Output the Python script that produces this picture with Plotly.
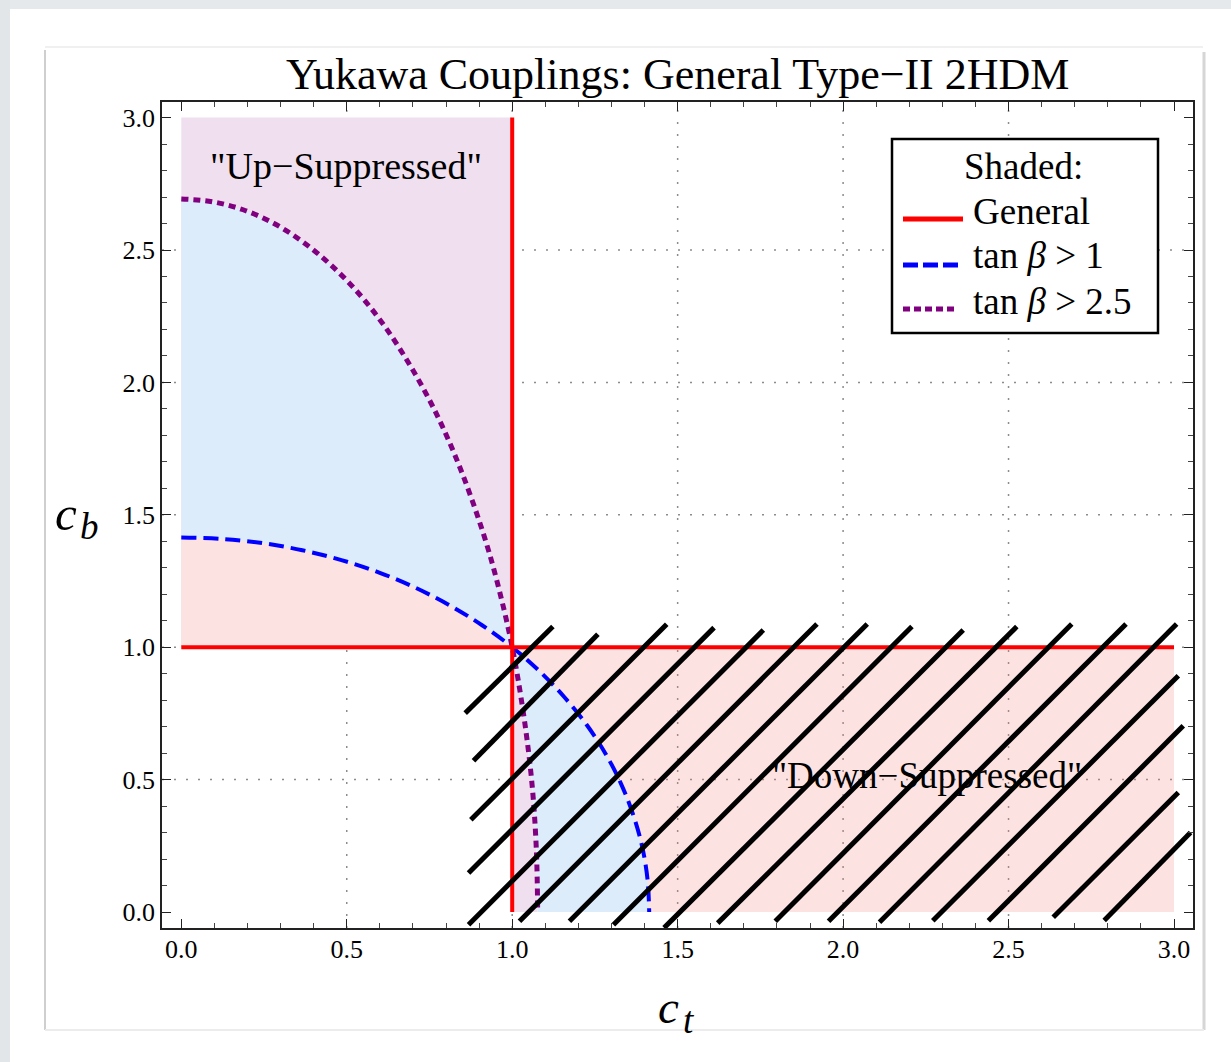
import plotly.graph_objects as go

# ---------------- data ----------------
# boundary of the tan(beta) > 2.5 region (purple dotted)
purple_ct = [0.000, 0.094, 0.187, 0.279, 0.368, 0.455, 0.539, 0.618, 0.692, 0.762,
             0.825, 0.882, 0.933, 0.976, 1.000, 1.012, 1.040, 1.061, 1.073, 1.077]
purple_cb = [2.693, 2.682, 2.652, 2.601, 2.530, 2.440, 2.332, 2.206, 2.063, 1.904,
             1.731, 1.544, 1.346, 1.138, 1.000, 0.921, 0.697, 0.468, 0.235, 0.000]
PURPLE_MID = 14  # index of the point (1, 1)

# boundary of the tan(beta) > 1 region (blue dashed)
blue_ct = [0.000, 0.123, 0.246, 0.366, 0.484, 0.598, 0.707, 0.811, 0.909, 1.000,
           1.083, 1.158, 1.225, 1.282, 1.329, 1.366, 1.393, 1.409, 1.414]
blue_cb = [1.414, 1.409, 1.393, 1.366, 1.329, 1.282, 1.225, 1.158, 1.083, 1.000,
           0.909, 0.811, 0.707, 0.598, 0.484, 0.366, 0.246, 0.123, 0.000]
BLUE_MID = 9

# general boundaries (red)
general_value = 1.0
coupling_min, coupling_max = 0.0, 3.0

# hatch segments (start / end points)
hatch_x0 = [0.858, 0.883, 0.875, 0.868, 0.868, 1.022, 1.173, 1.306, 1.459, 1.621,
            1.795, 1.956, 2.110, 2.271, 2.439, 2.635, 2.789]
hatch_y0 = [0.751, 0.571, 0.348, 0.147, -0.048, -0.035, -0.035, -0.048, -0.060, -0.042,
            -0.035, -0.035, -0.039, -0.033, -0.033, -0.020, -0.032]
hatch_x1 = [1.123, 1.259, 1.467, 1.610, 1.759, 1.921, 2.073, 2.208, 2.363, 2.525,
            2.691, 2.855, 3.008, 3.013, 3.028, 3.013, 3.050]
hatch_y1 = [1.078, 1.049, 1.087, 1.074, 1.065, 1.088, 1.088, 1.078, 1.065, 1.078,
            1.088, 1.088, 1.088, 0.892, 0.703, 0.451, 0.300]

grid_vals = [0.5, 1.0, 1.5, 2.0, 2.5]
tick_vals = [0.0, 0.5, 1.0, 1.5, 2.0, 2.5, 3.0]

title_text = "Yukawa Couplings: General Type\u2212II 2HDM"
legend_title = "Shaded:"
legend_labels = ["General", "tan <i>\u03b2</i> > 1", "tan <i>\u03b2</i> > 2.5"]

# ---------------- styling ----------------
W, H = 1231, 1062
PL, PR, PT, PB = 162, 1193, 102, 928
XR = [-0.0583, 3.0574]
YR = [-0.0604, 3.0589]
FONT = "Liberation Serif"

PINK = "#fde2e2"
PINK_T = "rgba(245,130,130,0.23)"
BLUE_F = "#ddecfb"
LAV = "#efdfef"
RED = "#ff0000"
BLUE = "#0000ff"
PURPLE = "#800080"


def pxx(px):
    return (px - PL) / (PR - PL)


def pxy(py):
    return (PB - py) / (PB - PT)


fig = go.Figure()


def poly(xs, ys, color):
    fig.add_trace(go.Scatter(x=xs, y=ys, fill="toself", fillcolor=color, mode="lines",
                             line=dict(width=0, color=color), hoverinfo="skip",
                             showlegend=False))


g, lo, hi = general_value, coupling_min, coupling_max
# top-left ("up-suppressed") region
poly([lo, g, g, lo], [g, g, hi, hi], LAV)
poly(purple_ct[:PURPLE_MID + 1] + [lo], purple_cb[:PURPLE_MID + 1] + [g], BLUE_F)
poly(blue_ct[:BLUE_MID + 1] + [lo], blue_cb[:BLUE_MID + 1] + [g], PINK)
# bottom-right ("down-suppressed") region
poly(purple_ct[PURPLE_MID:] + [g], purple_cb[PURPLE_MID:] + [lo], LAV)
poly(blue_ct[BLUE_MID:] + purple_ct[PURPLE_MID:][::-1],
     blue_cb[BLUE_MID:] + purple_cb[PURPLE_MID:][::-1], BLUE_F)
poly([hi, hi] + blue_ct[BLUE_MID:][::-1], [g, lo] + blue_cb[BLUE_MID:][::-1], PINK_T)

# boundary curves
fig.add_trace(go.Scatter(x=blue_ct, y=blue_cb, mode="lines", hoverinfo="skip", showlegend=False,
                         line=dict(color=BLUE, width=4, dash="15px,7px", shape="spline")))
fig.add_trace(go.Scatter(x=purple_ct, y=purple_cb, mode="lines", hoverinfo="skip", showlegend=False,
                         line=dict(color=PURPLE, width=5, dash="7px,5px", shape="spline")))
fig.add_trace(go.Scatter(x=[g, g], y=[lo, hi], mode="lines", hoverinfo="skip", showlegend=False,
                         line=dict(color=RED, width=4)))
fig.add_trace(go.Scatter(x=[lo, hi], y=[g, g], mode="lines", hoverinfo="skip", showlegend=False,
                         line=dict(color=RED, width=4)))

# hatching
hx, hy = [], []
for a, b, c, d in zip(hatch_x0, hatch_y0, hatch_x1, hatch_y1):
    hx += [a, c, None]
    hy += [b, d, None]
fig.add_trace(go.Scatter(x=hx, y=hy, mode="lines", hoverinfo="skip", showlegend=False,
                         line=dict(color="black", width=5)))

shapes = []
# page decoration
shapes.append(dict(type="rect", xref="paper", yref="paper", x0=pxx(0), x1=pxx(W), y0=pxy(0), y1=pxy(9),
                   fillcolor="#e6e9ec", line=dict(width=0), layer="below"))
shapes.append(dict(type="rect", xref="paper", yref="paper", x0=pxx(0), x1=pxx(10), y0=pxy(0), y1=pxy(H),
                   fillcolor="#e3e6e9", line=dict(width=0), layer="below"))
shapes.append(dict(type="line", xref="paper", yref="paper", x0=pxx(45), x1=pxx(45), y0=pxy(50), y1=pxy(1030),
                   line=dict(color="#cfcfcf", width=2), layer="below"))
shapes.append(dict(type="line", xref="paper", yref="paper", x0=pxx(45), x1=pxx(1203), y0=pxy(47), y1=pxy(47),
                   line=dict(color="#f0f0f0", width=2), layer="below"))
shapes.append(dict(type="line", xref="paper", yref="paper", x0=pxx(1204), x1=pxx(1204), y0=pxy(52), y1=pxy(1030),
                   line=dict(color="#d6d6d6", width=3), layer="below"))
shapes.append(dict(type="line", xref="paper", yref="paper", x0=pxx(45), x1=pxx(1204), y0=pxy(1030), y1=pxy(1030),
                   line=dict(color="#ececec", width=2), layer="below"))
# grid lines
for v in grid_vals:
    shapes.append(dict(type="line", xref="x", yref="y", x0=v, x1=v, y0=YR[0], y1=YR[1],
                       line=dict(color="#8c8c8c", width=1.5, dash="2px,10px"), layer="below"))
    shapes.append(dict(type="line", xref="x", yref="y", x0=XR[0], x1=XR[1], y0=v, y1=v,
                       line=dict(color="#8c8c8c", width=1.5, dash="2px,10px"), layer="below"))
# legend box and keys
shapes.append(dict(type="rect", xref="paper", yref="paper", x0=pxx(892), x1=pxx(1158), y0=pxy(333), y1=pxy(139),
                   fillcolor="white", line=dict(color="black", width=2.5), layer="above"))
shapes.append(dict(type="line", xref="paper", yref="paper", x0=pxx(903), x1=pxx(963), y0=pxy(219), y1=pxy(219),
                   line=dict(color=RED, width=5), layer="above"))
shapes.append(dict(type="line", xref="paper", yref="paper", x0=pxx(903), x1=pxx(958), y0=pxy(265), y1=pxy(265),
                   line=dict(color=BLUE, width=5, dash="15px,5px"), layer="above"))
shapes.append(dict(type="line", xref="paper", yref="paper", x0=pxx(903), x1=pxx(958), y0=pxy(309), y1=pxy(309),
                   line=dict(color=PURPLE, width=5, dash="7px,4px"), layer="above"))

ann = []
ann.append(dict(text=title_text, xref="paper", yref="paper", x=0.5, y=pxy(74), xanchor="center",
                yanchor="middle", showarrow=False, font=dict(family=FONT, size=44, color="black")))
ann.append(dict(text="\"Up\u2212Suppressed\"", xref="x", yref="y", x=0.499, y=2.818, xanchor="center",
                yanchor="middle", showarrow=False, font=dict(family=FONT, size=38, color="black")))
ann.append(dict(text="\"Down\u2212Suppressed\"", xref="x", yref="y", x=2.255, y=0.514, xanchor="center",
                yanchor="middle", showarrow=False, font=dict(family=FONT, size=37, color="black")))
ann.append(dict(text=legend_title, xref="paper", yref="paper", x=pxx(1023), y=pxy(166.5), xanchor="center",
                yanchor="middle", showarrow=False, font=dict(family=FONT, size=37, color="black")))
for lab, yy in zip(legend_labels, [211, 256, 301]):
    ann.append(dict(text=lab, xref="paper", yref="paper", x=pxx(971), y=pxy(yy), xanchor="left",
                    yanchor="middle", showarrow=False, font=dict(family=FONT, size=37, color="black")))
# axis titles
ann.append(dict(text="<i>c</i>", xref="paper", yref="paper", x=pxx(53), y=pxy(513), xanchor="left",
                yanchor="middle", showarrow=False, font=dict(family=FONT, size=49, color="black")))
ann.append(dict(text="<i>b</i>", xref="paper", yref="paper", x=pxx(78), y=pxy(526), xanchor="left",
                yanchor="middle", showarrow=False, font=dict(family=FONT, size=37, color="black")))
ann.append(dict(text="<i>c</i>", xref="paper", yref="paper", x=pxx(656), y=pxy(1007), xanchor="left",
                yanchor="middle", showarrow=False, font=dict(family=FONT, size=47, color="black")))
ann.append(dict(text="<i>t</i>", xref="paper", yref="paper", x=pxx(681), y=pxy(1020), xanchor="left",
                yanchor="middle", showarrow=False, font=dict(family=FONT, size=37, color="black")))

axis_common = dict(tickmode="array", tickvals=tick_vals, ticktext=[f"{v:.1f}" for v in tick_vals],
                   ticks="inside", ticklen=9, tickwidth=1.3, tickcolor="#222",
                   showline=True, linecolor="#222", linewidth=1.5, mirror="ticks",
                   showgrid=False, zeroline=False,
                   tickfont=dict(family=FONT, size=26, color="black"),
                   minor=dict(tick0=0, dtick=0.1, ticks="inside", ticklen=5, tickwidth=1,
                              tickcolor="#444", showgrid=False))

fig.update_layout(
    width=W, height=H, autosize=False,
    margin=dict(l=PL, r=W - PR, t=PT, b=H - PB, pad=0),
    paper_bgcolor="white", plot_bgcolor="white",
    xaxis=dict(range=XR, ticklabelstandoff=-3, **axis_common),
    yaxis=dict(range=YR, **axis_common),
    shapes=shapes, annotations=ann, hovermode=False, showlegend=False,
)

fig.write_html("out.html", config={"displayModeBar": False},
               post_script="document.body.style.margin='0px';document.body.style.overflow='hidden';")
